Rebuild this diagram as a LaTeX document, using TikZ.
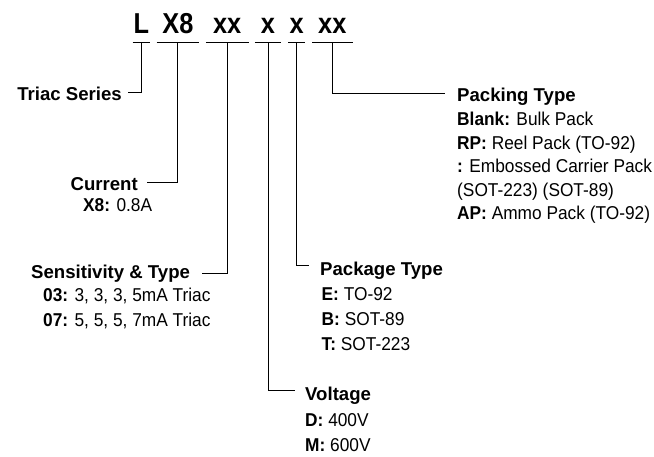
\documentclass[tikz,border=0pt]{standalone}
\usepackage{fontspec}
\setmainfont{Liberation Sans}
\newfontfamily\bodyfont[FakeStretch=0.93]{Liberation Sans}
\newfontfamily\codefont[FakeStretch=0.88]{Liberation Sans}
\begin{document}
\begin{tikzpicture}[x=1pt,y=-1pt,
  conn/.style={line width=0.9pt, black},
  codebox/.style={font=\fontsize{28.8}{30}\codefont\bfseries, inner xsep=0pt, inner ysep=9.4pt, text depth=0pt, anchor=south},
  title/.style={font=\fontsize{18.6}{22}\selectfont\bfseries, inner sep=0pt},
  body/.style={font=\fontsize{18.6}{22}\bodyfont, inner sep=0pt}]
\useasboundingbox (0,0) rectangle (654,456);
% code letters
\node[codebox, minimum width=17.3pt] (cL)  at (141.35,42.7) {L};
\node[codebox, minimum width=42.3pt] (cX)  at (177.85,42.7) {X8};
\node[codebox, minimum width=42.3pt] (cS)  at (227.15,42.7) {xx};
\node[codebox, minimum width=26pt]   (cV)  at (268,42.7) {x};
\node[codebox, minimum width=16.7pt] (cP)  at (296.65,42.7) {x};
\node[codebox, minimum width=40pt]   (cK)  at (332.3,42.7) {xx};
\foreach \n in {cL,cX,cS,cV,cP,cK} \draw[conn] (\n.south west) -- (\n.south east);
% titles
\node[title, anchor=base east] (tTriac) at (122,100.7) {Triac Series};
\node[title, anchor=base east] (tCur) at (138,190) {Current};
\node[title, anchor=base west] (tSens) at (31,278) {Sensitivity \& Type};
\node[title, anchor=base west] (tVolt) at (305,400) {Voltage};
\node[title, anchor=base west] (tPkg) at (320,275) {Package Type};
\node[title, anchor=base west] (tPack) at (457,101.7) {Packing Type};
% bodies
\node[body, anchor=base west] (bCur) at (83,211.7) {\textbf{X8:} 0.8A};
\node[body, anchor=base west] (bS1) at (43,301.7) {\textbf{03:} 3, 3, 3, 5mA Triac};
\node[body, anchor=base west] (bS2) at (43,326.7) {\textbf{07:} 5, 5, 5, 7mA Triac};
\node[body, anchor=base west] (bP1) at (321.5,300) {\textbf{E:} TO-92};
\node[body, anchor=base west] (bP2) at (321.5,325.3) {\textbf{B:} SOT-89};
\node[body, anchor=base west] (bP3) at (321.5,350.6) {\textbf{T:} SOT-223};
\node[body, anchor=base west] (bV1) at (305,426.7) {\textbf{D:} 400V};
\node[body, anchor=base west] (bV2) at (305,451.7) {\textbf{M:} 600V};
\node[body, anchor=base west] (bK1) at (457,125.7) {\textbf{Blank:} Bulk Pack};
\node[body, anchor=base west] (bK2) at (457,149.2) {\textbf{RP:} Reel Pack (TO-92)};
\node[body, anchor=base west] (bK3) at (457,172.7) {\textbf{:} Embossed Carrier Pack};
\node[body, anchor=base west] (bK4) at (457,196.2) {(SOT-223) (SOT-89)};
\node[body, anchor=base west] (bK5) at (457,219.5) {\textbf{AP:} Ammo Pack (TO-92)};
% connector ends
\coordinate (eTriac) at (128,92);
\coordinate (eCur) at (147,182);
\coordinate (eSens) at (202,273);
\coordinate (eVolt) at (295,390.5);
\coordinate (ePkg) at (309,265);
\coordinate (ePack) at (445,93);
\draw[conn] (cL.south) |- (eTriac);
\draw[conn] (cX.south) |- (eCur);
\draw[conn] (cS.south) |- (eSens);
\draw[conn] (cV.south) |- (eVolt);
\draw[conn] (cP.south) |- (ePkg);
\draw[conn] (cK.south) |- (ePack);
\end{tikzpicture}
\end{document}
